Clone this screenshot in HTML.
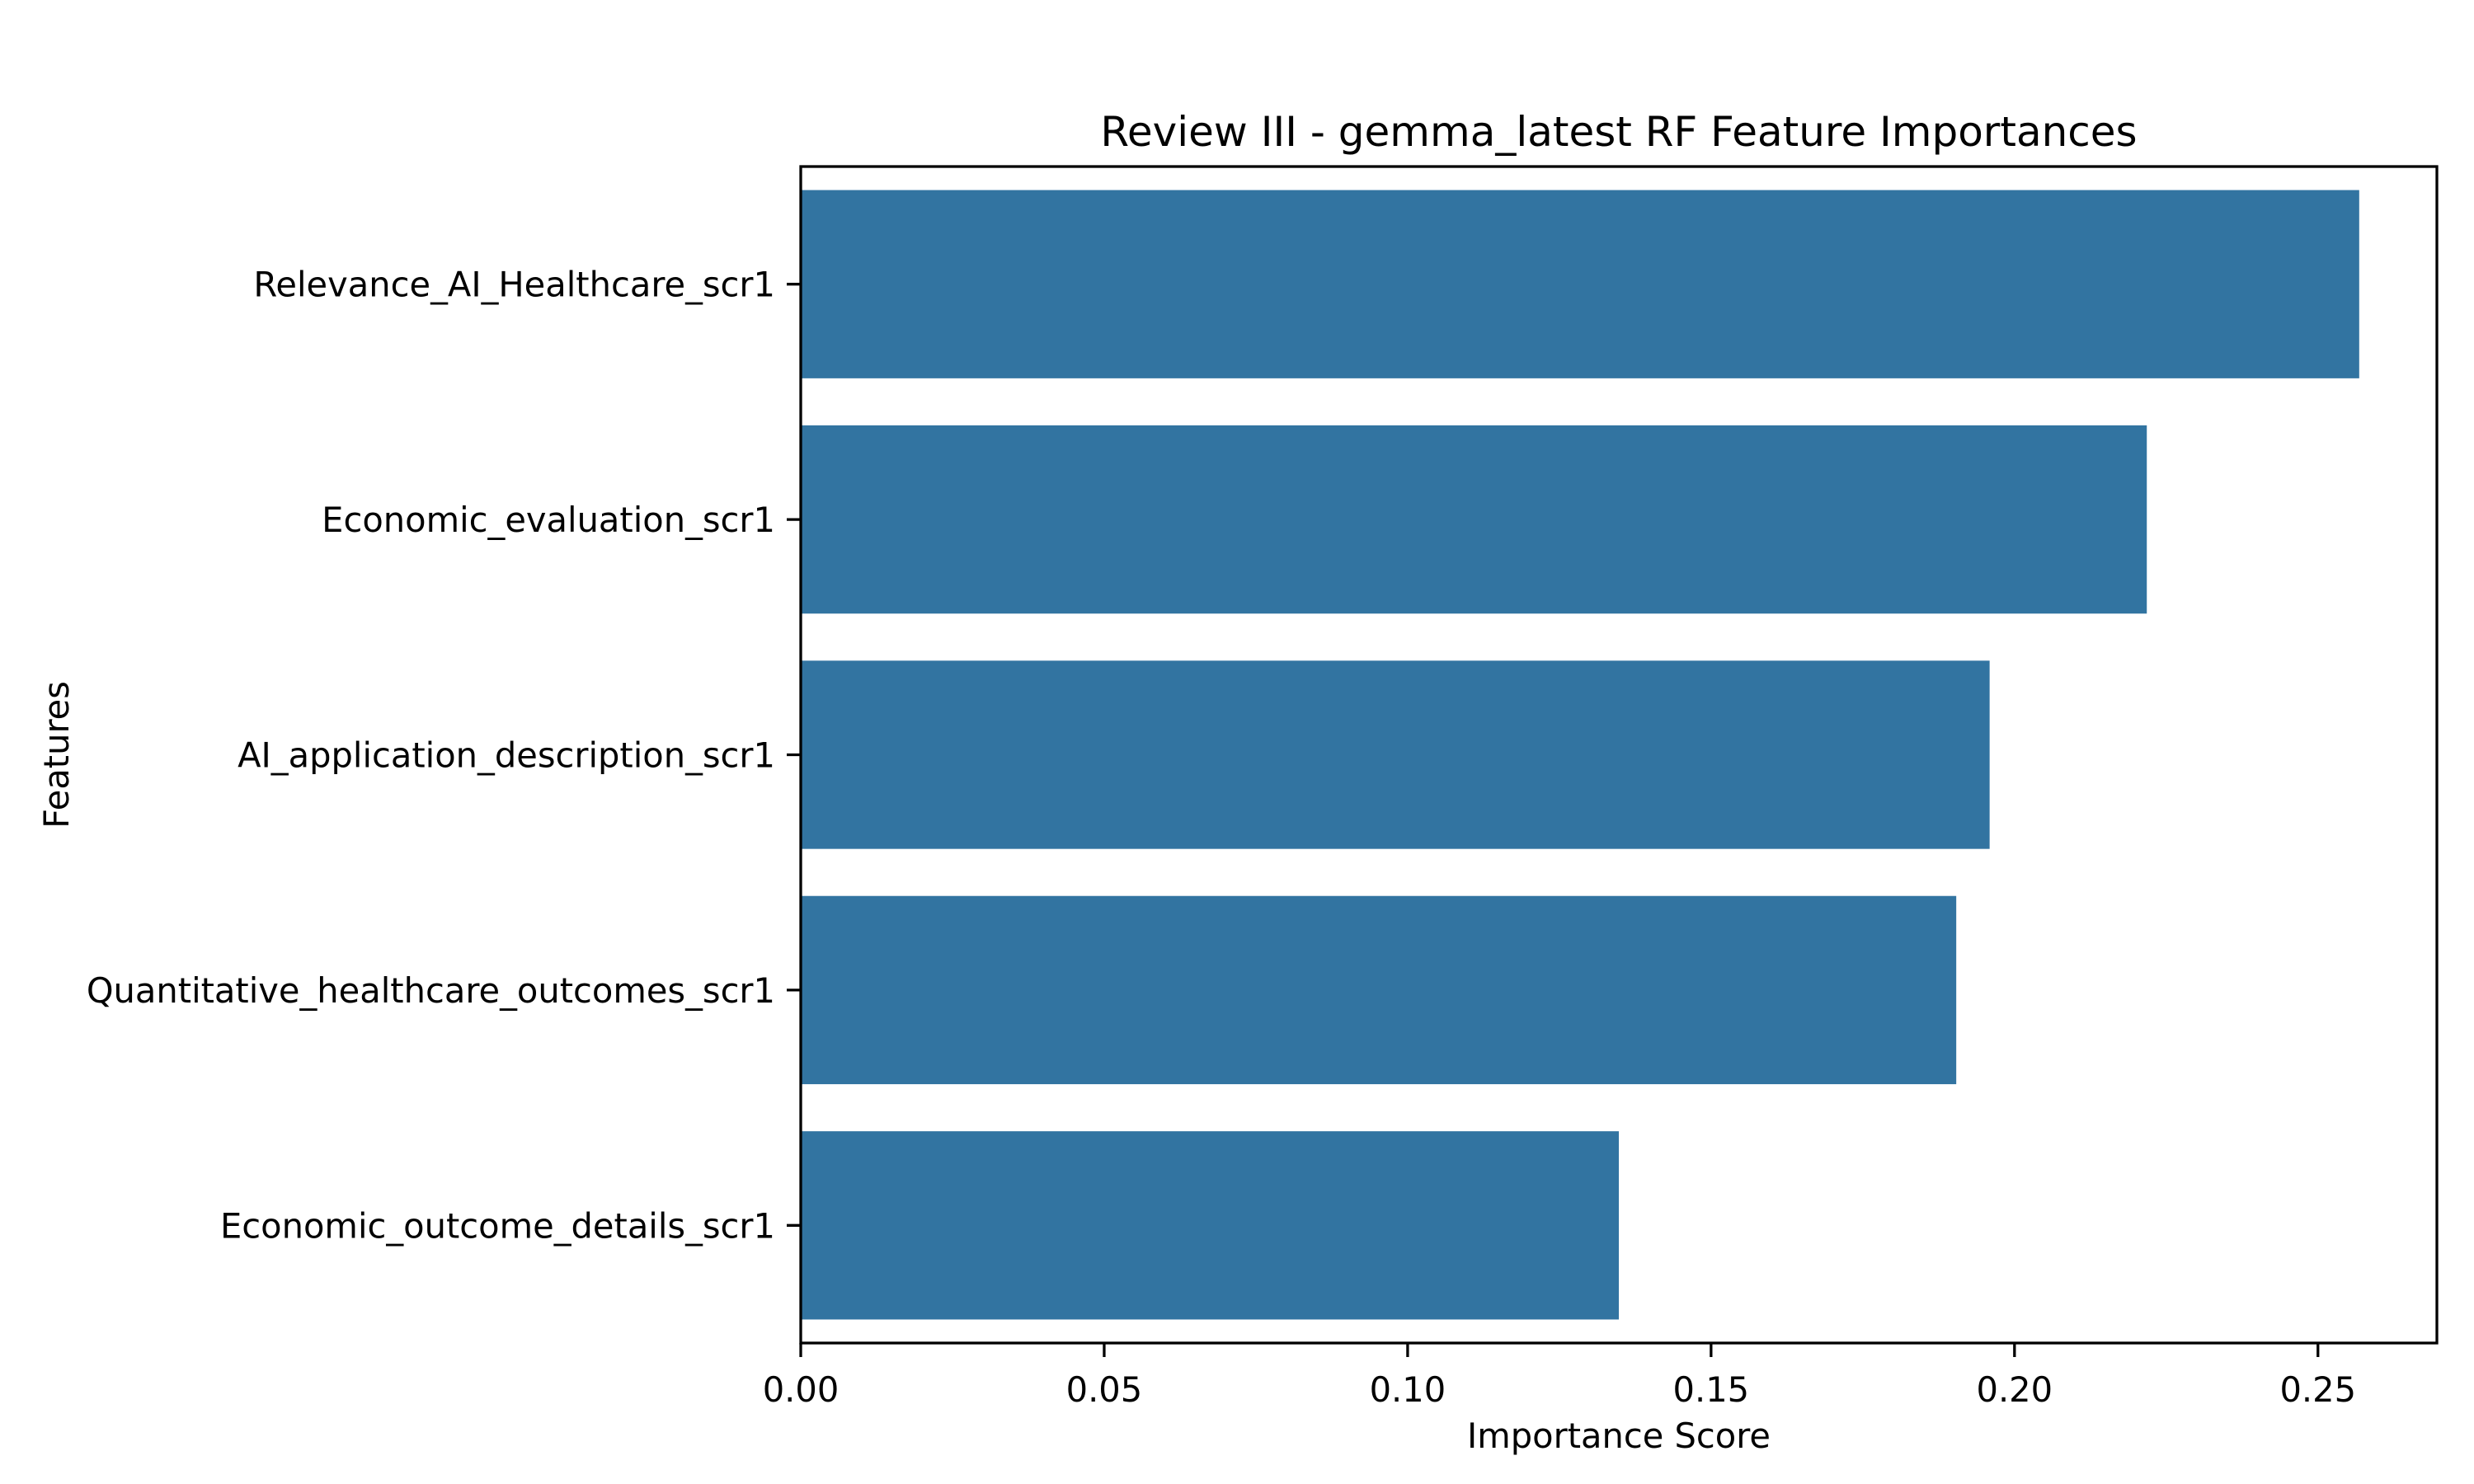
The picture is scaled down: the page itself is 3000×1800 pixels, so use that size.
<!DOCTYPE html>
<html><head><meta charset="utf-8"><style>
html,body{margin:0;padding:0;background:#fff}
svg{display:block}
text{font-family:"DejaVu Sans","Liberation Sans",sans-serif;fill:#000}
</style></head><body>
<svg id="chart" width="3000" height="1800" viewBox="0 0 3000 1800"></svg>
<script>
const categories = ["Relevance_AI_Healthcare_scr1","Economic_evaluation_scr1","AI_application_description_scr1","Quantitative_healthcare_outcomes_scr1","Economic_outcome_details_scr1"];
const values = [0.2568, 0.2218, 0.1959, 0.1904, 0.1348];
const xTicks = [0, 0.05, 0.10, 0.15, 0.20, 0.25];
const xTickLabels = ["0.00","0.05","0.10","0.15","0.20","0.25"];

const svg = document.getElementById('chart');
const NS = 'http://www.w3.org/2000/svg';
const L = 971, R = 2955, T = 202, B = 1629, XMAX = 0.2696;
const band = (B - T) / categories.length;
function xs(v){ return L + v / XMAX * (R - L); }
function yc(i){ return T + band * (i + 0.5); }
function mk(tag, attrs){ const e = document.createElementNS(NS, tag); for (const k in attrs) e.setAttribute(k, attrs[k]); svg.appendChild(e); return e; }

values.forEach((v, i) => {
  const r = mk('rect', {x: L, y: yc(i) - band*0.4, width: xs(v) - L, height: band*0.8, fill: '#3274a1'});
  
  
});

const frame = mk('rect', {x: L, y: T, width: R - L, height: B - T, fill: 'none', stroke: '#000', 'stroke-width': 3.3});



categories.forEach((c, i) => {
  const y = yc(i);
  const tk = mk('line', {x1: L - 17, x2: L, y1: y, y2: y, stroke: '#000', 'stroke-width': 3.3});
  
  
  const t = mk('text', {x: L - 31, y: y + 15, 'text-anchor': 'end', 'font-size': 41.6});
  t.textContent = c;
  
  
});

xTicks.forEach((v, i) => {
  const x = xs(v);
  const tk = mk('line', {x1: x, x2: x, y1: B, y2: B + 17, stroke: '#000', 'stroke-width': 3.3});
  
  
  const t = mk('text', {x: x, y: 1700, 'text-anchor': 'middle', 'font-size': 41.6});
  t.textContent = xTickLabels[i];
  
  
});

const title = mk('text', {x: (L + R) / 2, y: 177, 'text-anchor': 'middle', 'font-size': 50});
title.textContent = 'Review III - gemma_latest RF Feature Importances';



const xl = mk('text', {x: (L + R) / 2, y: 1756, 'text-anchor': 'middle', 'font-size': 41.6});
xl.textContent = 'Importance Score';



const yl = mk('text', {x: 0, y: 0, 'text-anchor': 'middle', 'font-size': 41.6, transform: 'translate(83,' + ((T + B) / 2) + ') rotate(-90)'});
yl.textContent = 'Features';


</script>
</body></html>
